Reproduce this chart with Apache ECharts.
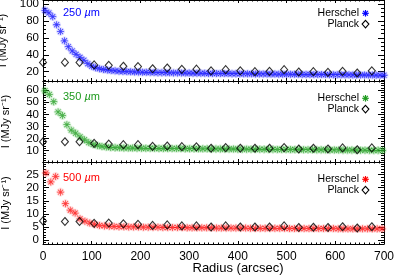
<!DOCTYPE html>
<html><head><meta charset="utf-8">
<script src="https://cdn.jsdelivr.net/npm/echarts@6/dist/echarts.min.js"></script>
<style>html,body{margin:0;padding:0;background:#fff}#c{width:395px;height:276px}</style>
</head><body><div id="c"></div>
<script>
// ---------- data ----------
const xTicks = [0,100,200,300,400,500,600,700];
const yTicks250 = [20,40,60,80,100];
const yTicks350 = [10,20,30,40,50,60];
const yTicks500 = [0,5,10,15,20,25];

const planckX = [0,45,75,105,135,165,195,225,255,285,315,345,375,405,435,465,495,525,555,585,615,645,675];
const planck250 = [31,31,31,28,27.5,26.4,26,23.5,24.4,22.8,23,21,22.4,21,20,20.4,22.4,19.6,20,19.2,20.4,18.5,21];
const planck350 = [17.4,17.4,17.4,16.1,15.5,15,15,13.6,13.9,13.3,13.2,12,12.6,12,12,12,12.6,11.4,12,11.4,12.3,10.8,12.3];
const planck500 = [7.3,7.1,7.1,6.4,6.5,6.2,6.0,5.6,5.8,5.4,5.4,5.0,5.4,5.0,5.0,5.0,5.4,4.8,4.9,4.8,5.1,4.6,5.1];

const h250X = [4,12,20,28,36,44,52,60,68,76,84,92,100,108,116,124,132,140,148,156,164,172,180,188,196,204,212,220,228,236,244,252,260,268,276,284,292,300,308,316,324,332,340,348,356,364,372,380,388,396,404,412,420,428,436,444,452,460,468,476,484,492,500,508,516,524,532,540,548,556,564,572,580,588,596,604,612,620,628,636,644,652,660,668,676,684,692,700];
const h250Y = [92.5,89.5,85.0,75.5,67.5,56.5,49.5,44.5,40.5,37.0,33.5,29.5,26.5,24.8,23.5,22.6,22.0,21.4,21.0,20.6,20.3,20.1,19.9,19.7,19.5,19.4,19.3,19.2,19.0,18.9,18.9,18.8,18.7,18.6,18.6,18.5,18.4,18.4,18.3,18.2,18.2,18.1,18.0,18.0,17.9,17.9,17.8,17.8,17.7,17.7,17.6,17.6,17.5,17.5,17.4,17.4,17.3,17.3,17.2,17.2,17.1,17.1,17.0,17.0,16.9,16.9,16.8,16.8,16.8,16.7,16.7,16.6,16.6,16.5,16.5,16.4,16.4,16.3,16.3,16.2,16.2,16.1,16.1,16.0,16.0,15.9,15.9,15.8];

const h350X = [4,13,22,31,40,49,58,67,76,85,94,103,112,121,130,139,148,157,166,175,184,193,202,211,220,229,238,247,256,265,274,283,292,301,310,319,328,337,346,355,364,373,382,391,400,409,418,427,436,445,454,463,472,481,490,499,508,517,526,535,544,553,562,571,580,589,598,607,616,625,634,643,652,661,670,679,688,697];
const h350Y = [59.5,56.5,50.5,42.0,39.0,31.5,27.0,24.5,21.5,19.0,16.8,15.2,14.2,13.5,13.0,12.7,12.5,12.4,12.3,12.2,12.2,12.1,12.1,12.0,12.0,12.0,11.9,11.9,11.9,11.8,11.8,11.8,11.7,11.7,11.7,11.6,11.6,11.6,11.5,11.5,11.5,11.4,11.4,11.4,11.3,11.3,11.3,11.2,11.2,11.2,11.1,11.1,11.1,11.0,11.0,11.0,10.9,10.9,10.9,10.8,10.8,10.8,10.7,10.7,10.7,10.6,10.6,10.6,10.5,10.5,10.5,10.4,10.4,10.4,10.3,10.3,10.3,10.2];

const h500X = [6,16,26,36,46,56,66,76,86,96,106,116,126,136,146,156,166,176,186,196,206,216,226,236,246,256,266,276,286,296,306,316,326,336,346,356,366,376,386,396,406,416,426,436,446,456,466,476,486,496,506,516,526,536,546,556,566,576,586,596,606,616,626,636,646,656,666,676,686,696];
const h500Y = [25.6,22.2,24.3,18.3,13.9,11.4,10.3,8.1,7.2,6.5,6.0,5.6,5.4,5.3,5.2,5.1,5.1,5.0,5.0,5.0,4.9,4.9,4.9,4.9,4.8,4.8,4.8,4.8,4.8,4.7,4.7,4.7,4.7,4.7,4.7,4.6,4.6,4.6,4.6,4.6,4.6,4.6,4.5,4.5,4.5,4.5,4.5,4.5,4.5,4.5,4.4,4.4,4.4,4.4,4.4,4.4,4.4,4.4,4.4,4.4,4.3,4.3,4.3,4.3,4.3,4.3,4.3,4.3,4.3,4.3];

// ---------- layout / style ----------
const FONT = 'Liberation Sans, Arial, sans-serif';
const ASTER = 'path://M0 4.45H10V5.55H0Z M4.45 0H5.55V10H4.45Z M1.92 1.08L8.92 8.08L8.08 8.92L1.08 1.92Z M8.08 1.08L8.92 1.92L1.92 8.92L1.08 8.08Z';
const GL = 43, GR = 11;
const panels = [
  {top:0, height:81, min:9, max:104.75, majors:yTicks250, minorStep:5, hx:h250X, hy:h250Y, py:planck250,
   color:'#0000ff', halo:'rgba(80,80,255,0.28)', label:'250'},
  {top:81, height:81, min:0.66, max:67.6, majors:yTicks350, minorStep:2, hx:h350X, hy:h350Y, py:planck350,
   color:'#1e9a1e', halo:'rgba(60,180,60,0.28)', label:'350'},
  {top:162, height:82, min:-1.5, max:29.8, majors:yTicks500, minorStep:1, hx:h500X, hy:h500Y, py:planck500,
   color:'#ff0000', halo:'rgba(255,80,80,0.28)', label:'500'}
];

function minorsOf(p){
  const out=[];
  for(let v=Math.ceil(p.min/p.minorStep)*p.minorStep; v<=p.max; v+=p.minorStep){
    if(!p.majors.includes(v)) out.push(v);
  }
  return out;
}
const zip = (xs, ys) => xs.map((x,i)=>[x, ys[i]]);

const grid=[], xAxis=[], yAxis=[], series=[], graphic=[];
panels.forEach((p,i)=>{
  grid.push({left:GL, right:GR, top:p.top, height:p.height, outerBoundsMode:'none', containLabel:false});
  ['bottom','top'].forEach(pos=>{
    xAxis.push({gridIndex:i, type:'value', min:0, max:700, interval:100, position:pos,
      axisLine:{onZero:false, lineStyle:{color:'#000', width:1}},
      axisTick:{inside:true, length:3, lineStyle:{color:'#000'}},
      minorTick:{show:true, splitNumber:10, length:1.5, lineStyle:{color:'#000'}},
      axisLabel:{show: i===2 && pos==='bottom', color:'#000', fontSize:12, fontFamily:FONT, margin:7},
      splitLine:{show:false}, minorSplitLine:{show:false}});
  });
  const mins = minorsOf(p);
  ['left','right'].forEach(pos=>{
    yAxis.push({gridIndex:i, type:'value', min:p.min, max:p.max, position:pos,
      axisLine:{onZero:false, lineStyle:{color:'#000', width:1}},
      axisTick:{inside:true, length:6, customValues:p.majors, lineStyle:{color:'#000'}},
      axisLabel:{show:pos==='left', customValues:p.majors, color:'#000', fontSize:11.5, fontFamily:FONT, margin:4},
      splitLine:{show:false},
      name: pos==='left' ? 'I (MJy sr\u207B\u00B9)' : '',
      nameLocation:'middle', nameGap:32, nameRotate:90,
      nameTextStyle:{color:'#000', fontSize:11, fontFamily:FONT}});
    yAxis.push({gridIndex:i, type:'value', min:p.min, max:p.max, position:pos,
      axisLine:{show:false, onZero:false},
      axisTick:{inside:true, length:3, customValues:mins, lineStyle:{color:'#000'}},
      axisLabel:{show:false}, splitLine:{show:false}});
  });
  series.push({type:'scatter', name:'Herschel', xAxisIndex:2*i, yAxisIndex:4*i,
    data:zip(p.hx, p.hy), symbol:ASTER, symbolSize:7,
    itemStyle:{color:p.color, borderColor:p.halo, borderWidth:1.6}, clip:true, silent:true});
  series.push({type:'scatter', name:'Planck', xAxisIndex:2*i, yAxisIndex:4*i,
    data:zip(planckX, p.py), symbol:'diamond', symbolSize:[7,8],
    itemStyle:{color:'rgba(0,0,0,0)', borderColor:'#000', borderWidth:1.1}, clip:true, silent:true});

  // band label
  graphic.push({type:'text', x:63, y:p.top + (i===0?13.3:15.5),
    style:{text:p.label+' {mu|\u00B5}m', fill:p.color, font:'11px '+FONT, textVerticalAlign:'middle',
      rich:{mu:{fontStyle:'italic', fontSize:11, fontFamily:FONT, fill:p.color}}}});
  // legend
  const ly1 = p.top + (i===0 ? 13.3 : 17.3), ly2 = ly1 + 10.8;
  graphic.push({type:'text', x:359, y:ly1, style:{text:'Herschel', fill:'#000', font:'10.5px '+FONT, textAlign:'right', textVerticalAlign:'middle'}});
  graphic.push({type:'text', x:359, y:ly2, style:{text:'Planck', fill:'#000', font:'10.5px '+FONT, textAlign:'right', textVerticalAlign:'middle'}});
  const cx = 365.5, r = 3.3, d = 2.4;
  [[cx-r,ly1,cx+r,ly1],[cx,ly1-r,cx,ly1+r],[cx-d,ly1-d,cx+d,ly1+d],[cx-d,ly1+d,cx+d,ly1-d]].forEach(s=>{
    graphic.push({type:'line', shape:{x1:s[0],y1:s[1],x2:s[2],y2:s[3]}, style:{stroke:p.color, lineWidth:1.2}});
  });
  graphic.push({type:'polygon', shape:{points:[[cx,ly2-3.8],[cx+3.4,ly2],[cx,ly2+3.8],[cx-3.4,ly2]]},
    style:{fill:'none', stroke:'#000', lineWidth:1.1}});
});
graphic.push({type:'text', x:238, y:268, style:{text:'Radius (arcsec)', fill:'#000', font:'13px '+FONT, textAlign:'center', textVerticalAlign:'middle'}});

const chart = echarts.init(document.getElementById('c'), null, {renderer:'canvas'});
chart.setOption({animation:false, backgroundColor:'#fff', grid, xAxis, yAxis, series, graphic});
</script></body></html>
